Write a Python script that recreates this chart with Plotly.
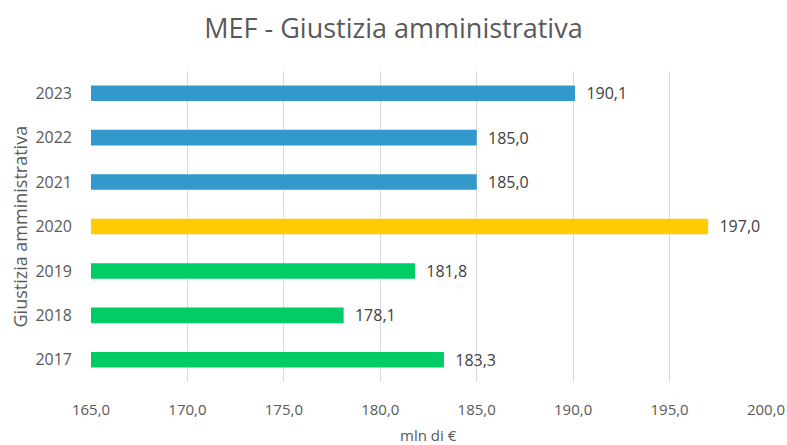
import plotly.graph_objects as go

years = ["2017", "2018", "2019", "2020", "2021", "2022", "2023"]
values = [183.3, 178.1, 181.8, 197.0, 185.0, 185.0, 190.1]
colors = ["#00CC66", "#00CC66", "#00CC66", "#FFCC00", "#3399CC", "#3399CC", "#3399CC"]
tick_vals = [165, 170, 175, 180, 185, 190, 195, 200]

FONT = "Open Sans"
GREY = "#595959"

fig = go.Figure(
    go.Bar(
        y=years,
        x=values,
        base=0,
        orientation="h",
        marker=dict(color=colors, line=dict(width=0)),
        width=0.35,
        text=["  " + f"{v:.1f}".replace(".", ",") for v in values],
        textposition="outside",
        constraintext="none",
        textfont=dict(family=FONT, size=16, color="#404040"),
        cliponaxis=False,
        hoverinfo="skip",
    )
)

fig.update_layout(
    width=787,
    height=445,
    margin=dict(l=91, r=21, t=71, b=63, autoexpand=False),
    paper_bgcolor="white",
    plot_bgcolor="white",
    separators=",.",
    showlegend=False,
    title=dict(
        text="MEF - Giustizia amministrativa",
        x=0.5,
        xanchor="center",
        y=0.935,
        yanchor="middle",
        font=dict(family=FONT, size=27, color=GREY),
    ),
    xaxis=dict(
        range=[165, 200],
        tickvals=tick_vals,
        tickformat=".1f",
        showgrid=True,
        gridcolor="#D9D9D9",
        gridwidth=1,
        zeroline=False,
        showline=False,
        ticks="",
        automargin=False,
        ticklabeloverflow="allow",
        ticklabelstandoff=17,
        tickfont=dict(family=FONT, size=15, color=GREY),
    ),
    yaxis=dict(
        categoryorder="array",
        categoryarray=years,
        showgrid=False,
        zeroline=False,
        showline=False,
        ticks="",
        automargin=False,
        ticklabelstandoff=18,
        tickfont=dict(family=FONT, size=16, color=GREY),
    ),
    annotations=[
        dict(
            text="mln di €",
            xref="paper", yref="paper",
            x=0.5, y=0, yshift=-53,
            xanchor="center", yanchor="middle",
            showarrow=False,
            font=dict(family=FONT, size=15, color=GREY),
        ),
        dict(
            text="Giustizia amministrativa",
            xref="paper", yref="paper",
            x=0, xshift=-72, y=0.5,
            xanchor="center", yanchor="middle",
            textangle=-90,
            showarrow=False,
            font=dict(family=FONT, size=18, color=GREY),
        ),
    ],
)

fig.write_html(
    "out.html",
    config={"displayModeBar": False},
    post_script="document.body.style.margin='0';document.body.style.overflow='hidden';",
)
